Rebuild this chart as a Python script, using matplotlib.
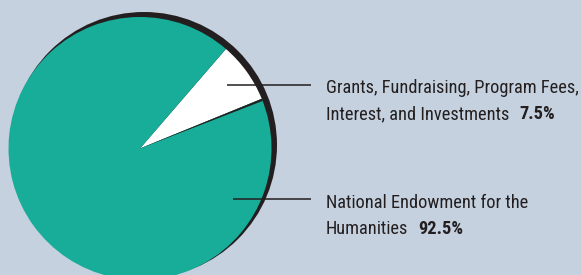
import matplotlib
matplotlib.use("Agg")
import matplotlib.pyplot as plt
from matplotlib import font_manager
from matplotlib.font_manager import FontProperties
from matplotlib.patches import Circle, Wedge

# ----------------------------------------------------------------------
# Data
# ----------------------------------------------------------------------
shares = [7.5, 92.5]
pct_labels = ["7.5%", "92.5%"]
label_lines = [
    ["Grants, Fundraising, Program Fees,", "Interest, and Investments"],
    ["National Endowment for the", "Humanities"],
]
slice_colors = ["#ffffff", "#17ad98"]

BG = "#c5d1df"
DARK = "#231f20"
W, H = 581, 275

# ----------------------------------------------------------------------
# Font: a narrow face is closest to the original
# ----------------------------------------------------------------------
def pick_font():
    fl = font_manager.fontManager.ttflist
    for fam in ["Liberation Sans Narrow", "Roboto Condensed", "Open Sans Condensed",
                "Noto Sans Condensed", "DejaVu Sans Condensed"]:
        if any(f.name == fam for f in fl):
            return fam, "normal"
    for fam in ["Noto Sans", "Open Sans", "Roboto", "DejaVu Sans"]:
        if any(f.name == fam and str(f.stretch) == "condensed" for f in fl):
            return fam, "condensed"
    return "Liberation Sans", "normal"


fam, stretch = pick_font()

fig = plt.figure(figsize=(W / 100, H / 100), dpi=100, facecolor=BG)
ax = fig.add_axes([0, 0, 1, 1])
ax.set_facecolor(BG)

# pie geometry in pixel units
cx, cy, r = 140, H - 148.5, 131.5
start = 22.2

# drop shadow behind the pie
ax.add_patch(Circle((cx + 4, cy + 3.5), r + 1.5, color=DARK, zorder=0, lw=0))

ax.pie(shares, colors=slice_colors, startangle=start, counterclock=True,
       center=(cx, cy), radius=r, frame=True,
       wedgeprops=dict(linewidth=0.4, edgecolor="none"))

# thin dark edge under the white slice
ax.add_patch(Wedge((cx, cy), r, start - 1.0, start, color=DARK, lw=0, zorder=5))

ax.set_xlim(0, W)
ax.set_ylim(0, H)
ax.set_aspect("auto")
ax.axis("off")

# ----------------------------------------------------------------------
# Labels
# ----------------------------------------------------------------------
fig.canvas.draw()
renderer = fig.canvas.get_renderer()
probe = ax.text(0, 0, label_lines[0][0], fontsize=10, family=fam, stretch=stretch)
pw = probe.get_window_extent(renderer).width
probe.remove()
fs = min(15.0, 10 * 253 / pw)

text_x = 326
baselines = [[H - 93.3, H - 119.3], [H - 208.3, H - 234]]
leader_y = [H - 85, H - 198.5]
leader_x0 = [227, 233]

for i in range(len(shares)):
    ax.plot([leader_x0[i], 311], [leader_y[i], leader_y[i]], color=DARK, lw=1.1, zorder=6,
            solid_capstyle="butt")
    last = None
    for j, line in enumerate(label_lines[i]):
        last = ax.text(text_x, baselines[i][j], line, fontsize=fs, family=fam,
                       stretch=stretch, color=DARK, va="baseline", ha="left")
    ax.annotate(pct_labels[i], xy=(1, 0), xycoords=last, xytext=(7, 0),
                textcoords="offset points", fontsize=fs, family=fam, stretch=stretch,
                weight="bold", color=DARK, va="bottom", ha="left")

fig.savefig("out.png", dpi=100, facecolor=BG)
